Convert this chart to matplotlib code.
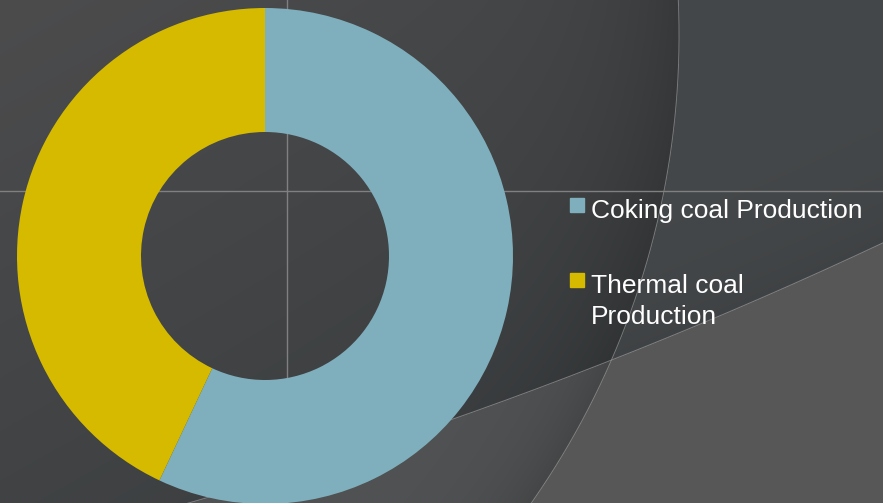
import numpy as np
import matplotlib.pyplot as plt
from matplotlib.patches import Rectangle

# chart data
labels = ['Coking coal Production', 'Thermal coal\nProduction']
values = [57, 43]
colors = ['#7fafbd', '#d5ba00']

W, H = 883, 503
fig = plt.figure(figsize=(W / 100, H / 100), dpi=100)

# background (slide style: dark gray with sweeping arcs)
bg = fig.add_axes([0, 0, 1, 1])
bg.set_xlim(0, W)
bg.set_ylim(H, 0)
bg.axis('off')

yy, xx = np.mgrid[0:H, 0:W] + 0.5
acx, acy, ar = -136, 35, 815          # big arc
lcx, lcy, lr = -1054, -3871, 4547     # lower sweep
d_arc = ar - np.hypot(xx - acx, yy - acy)
d_line = np.hypot(xx - lcx, yy - lcy) - lr

t = np.clip((xx / W + yy / H) / 1.4, 0, 1)[..., None]
left = (1 - t) * np.array([76, 76, 77]) + t * np.array([60, 63, 65])
left = left * (1 - 0.18 * np.exp(-np.clip(d_arc, 0, None) / 70))[..., None]
upper = np.array([69, 72, 74]) * np.ones_like(left)
upper = upper * (1 - 0.08 * np.exp(-np.clip(-d_line, 0, None) / 60))[..., None]
lower = np.array([87, 87, 87]) * np.ones_like(left)
lower_left = np.array([80, 82, 83]) * np.ones_like(left)
lower_left = lower_left * (1 - 0.15 * np.exp(-np.clip(d_arc, 0, None) / 40))[..., None]

img = np.where((d_arc > 0)[..., None], left, upper)
img = np.where(((d_line > 0) & (d_arc <= 0))[..., None], lower, img)
img = np.where(((d_line > 0) & (d_arc > 0))[..., None], lower_left, img)
bg.imshow(img.astype(np.uint8), extent=(0, W, H, 0), aspect='auto', zorder=0)

th = np.linspace(-0.1, 1.2, 400)
bg.plot(acx + ar * np.cos(th), acy + ar * np.sin(th), color='#9a9a9a', lw=0.6, alpha=0.7, zorder=1)
th2 = np.linspace(1.0, 1.5, 400)
bg.plot(lcx + lr * np.cos(th2), lcy + lr * np.sin(th2), color='#9a9a9a', lw=0.6, alpha=0.7, zorder=1)

bg.axhline(191, color='#808080', lw=1, zorder=2)
bg.axvline(287, color='#808080', lw=1, zorder=2)

# doughnut
ax = fig.add_axes([17 / W, (H - 256 - 248) / H, 496 / W, 496 / H])
ax.pie(values, colors=colors, startangle=90, counterclock=False,
       wedgeprops=dict(width=0.5, edgecolor='none'))
ax.set_xlim(-1, 1)
ax.set_ylim(-1, 1)
ax.set_aspect('equal')
ax.patch.set_visible(False)

# legend
ys = [198, 273]
for lab, col, y in zip(labels, colors, ys):
    bg.add_patch(Rectangle((570, y), 14, 14, color=col, zorder=3))
    bg.text(591, y + 1, lab, color='white', fontsize=19, family='Liberation Sans',
            va='top', ha='left', linespacing=1.36, zorder=3)

fig.savefig('out.png', dpi=100)
